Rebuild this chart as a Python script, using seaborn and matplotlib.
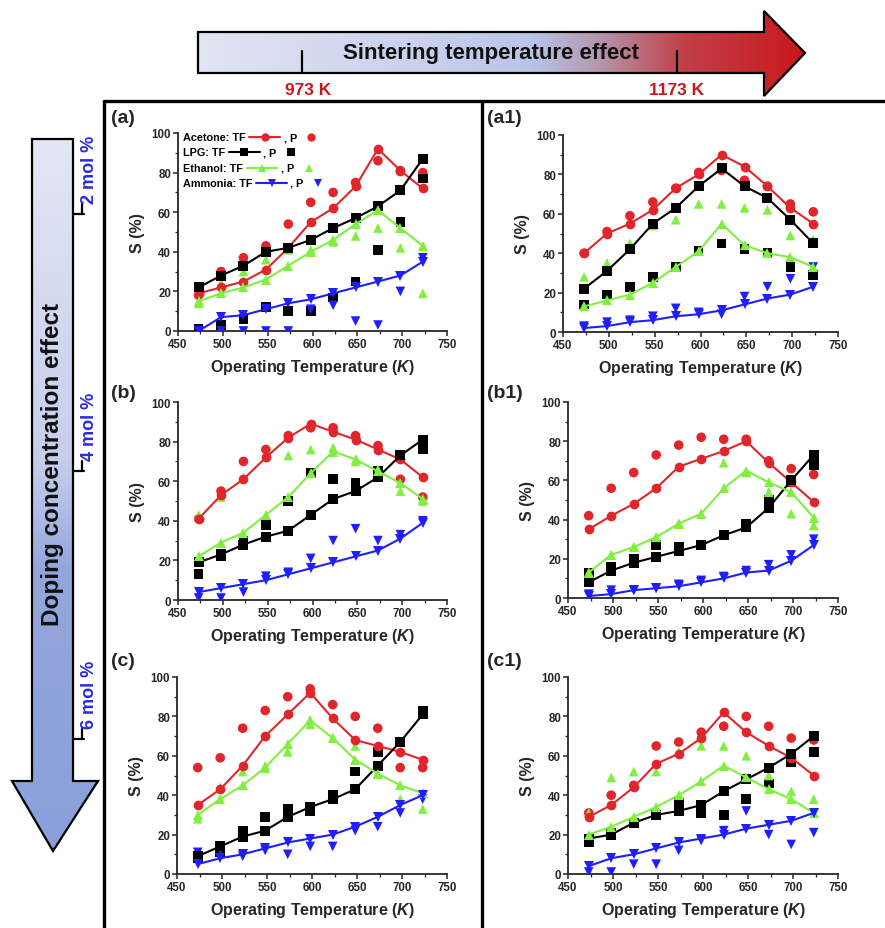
import matplotlib
matplotlib.use("Agg")
import numpy as np
import pandas as pd
import matplotlib.pyplot as plt
import seaborn as sns
from matplotlib.patches import Polygon
from matplotlib.lines import Line2D
from matplotlib.colors import LinearSegmentedColormap
from matplotlib.ticker import MultipleLocator
from matplotlib.offsetbox import TextArea, DrawingArea, HPacker, VPacker, AnchoredOffsetbox

# ---------------- data ----------------
temps = [473, 498, 523, 548, 573, 598, 623, 648, 673, 698, 723]
gases = ["Acetone", "LPG", "Ethanol", "Ammonia"]

# panel (a)
a_acetone_tf = [19, 22, 25, 31, 42, 55, 62, 73, 92, 81, 72]
a_acetone_p = [18, 30, 37, 43, 54, 65, 70, 75, 86, 81, 80]
a_lpg_tf = [22, 28, 33, 40, 42, 46, 52, 57, 63, 71, 87]
a_lpg_p = [1, 3, 6, 12, 10, 10, 17, 25, 41, 55, 77]
a_ethanol_tf = [15, 19, 22, 26, 33, 40, 46, 54, 61, 52, 43]
a_ethanol_p = [14, 24, 30, 36, 41, 41, 45, 48, 52, 42, 19]
a_ammonia_tf = [0, 7, 8, 11, 14, 16, 19, 22, 25, 28, 35]
a_ammonia_p = [0, 0, 0, 0, 0, 11, 13, 5, 3, 20, 37]

# panel (a1)
a1_acetone_tf = [40, 50, 55, 62, 73, 80, 90, 84, 74, 63, 55]
a1_acetone_p = [40, 51, 59, 66, 73, 81, 82, 77, 74, 65, 61]
a1_lpg_tf = [22, 31, 42, 55, 63, 74, 83, 74, 68, 57, 45]
a1_lpg_p = [14, 19, 23, 28, 33, 41, 45, 42, 40, 33, 29]
a1_ethanol_tf = [13, 16, 19, 25, 33, 41, 55, 44, 40, 38, 33]
a1_ethanol_p = [28, 35, 45, 54, 57, 65, 65, 63, 62, 49, 47]
a1_ammonia_tf = [2, 3, 5, 6, 8, 9, 11, 14, 17, 19, 23]
a1_ammonia_p = [3, 5, 6, 8, 12, 10, 9, 18, 23, 27, 33]

# panel (b)
b_acetone_tf = [41, 53, 61, 72, 82, 89, 85, 81, 76, 71, 62]
b_acetone_p = [41, 55, 70, 76, 83, 87, 87, 83, 78, 61, 52]
b_lpg_tf = [19, 23, 28, 32, 35, 43, 51, 55, 62, 73, 81]
b_lpg_p = [13, 22, 30, 38, 50, 64, 61, 59, 65, 72, 76]
b_ethanol_tf = [22, 29, 34, 43, 52, 64, 75, 71, 65, 59, 51]
b_ethanol_p = [43, 52, 62, 72, 73, 76, 77, 70, 66, 55, 50]
b_ammonia_tf = [4, 6, 8, 10, 13, 16, 19, 22, 25, 31, 39]
b_ammonia_p = [1, 1, 4, 12, 14, 21, 30, 36, 30, 33, 40]

# panel (b1)
b1_acetone_tf = [35, 42, 48, 56, 67, 71, 75, 80, 69, 59, 49]
b1_acetone_p = [42, 56, 64, 73, 78, 82, 81, 81, 70, 66, 63]
b1_lpg_tf = [8, 14, 18, 21, 24, 27, 32, 36, 46, 60, 73]
b1_lpg_p = [13, 16, 20, 27, 26, 27, 32, 38, 50, 59, 68]
b1_ethanol_tf = [13, 22, 26, 31, 38, 43, 56, 65, 59, 54, 41]
b1_ethanol_p = [13, 22, 26, 31, 38, 43, 69, 64, 54, 43, 37]
b1_ammonia_tf = [1, 2, 4, 5, 6, 8, 10, 13, 14, 19, 27]
b1_ammonia_p = [2, 4, 4, 5, 7, 9, 11, 14, 17, 22, 30]

# panel (c)
c_acetone_tf = [35, 43, 55, 70, 81, 92, 79, 68, 65, 62, 58]
c_acetone_p = [54, 59, 74, 83, 90, 94, 86, 80, 74, 54, 54]
c_lpg_tf = [9, 14, 19, 22, 29, 34, 38, 43, 55, 67, 81]
c_lpg_p = [8, 11, 22, 29, 33, 32, 40, 52, 62, 67, 83]
c_ethanol_tf = [30, 38, 45, 54, 66, 78, 69, 58, 51, 45, 41]
c_ethanol_p = [28, 44, 52, 55, 62, 76, 69, 65, 51, 38, 33]
c_ammonia_tf = [5, 8, 10, 13, 16, 18, 20, 24, 29, 35, 40]
c_ammonia_p = [11, 12, 9, 12, 10, 14, 14, 22, 24, 31, 38]

# panel (c1)
c1_acetone_tf = [29, 35, 44, 56, 61, 69, 82, 72, 65, 59, 50]
c1_acetone_p = [31, 40, 45, 65, 67, 72, 75, 80, 75, 69, 68]
c1_lpg_tf = [18, 20, 26, 30, 32, 35, 42, 48, 54, 61, 70]
c1_lpg_p = [16, 21, 26, 30, 36, 31, 30, 38, 46, 57, 62]
c1_ethanol_tf = [20, 24, 29, 34, 40, 47, 55, 49, 43, 38, 31]
c1_ethanol_p = [31, 49, 52, 52, 62, 65, 65, 60, 50, 42, 38]
c1_ammonia_tf = [4, 8, 10, 13, 16, 18, 20, 23, 25, 27, 31]
c1_ammonia_p = [1, 1, 5, 5, 12, 17, 22, 32, 20, 15, 21]

panel_labels = ["(a)", "(a1)", "(b)", "(b1)", "(c)", "(c1)"]
x_ticks = [450, 500, 550, 600, 650, 700, 750]
y_ticks = [0, 20, 40, 60, 80, 100]
mol_labels = ["2 mol %", "4 mol %", "6 mol %"]
sinter_labels = ["973 K", "1173 K"]

panels = {
    "(a)": (a_acetone_tf, a_acetone_p, a_lpg_tf, a_lpg_p, a_ethanol_tf, a_ethanol_p, a_ammonia_tf, a_ammonia_p),
    "(a1)": (a1_acetone_tf, a1_acetone_p, a1_lpg_tf, a1_lpg_p, a1_ethanol_tf, a1_ethanol_p, a1_ammonia_tf, a1_ammonia_p),
    "(b)": (b_acetone_tf, b_acetone_p, b_lpg_tf, b_lpg_p, b_ethanol_tf, b_ethanol_p, b_ammonia_tf, b_ammonia_p),
    "(b1)": (b1_acetone_tf, b1_acetone_p, b1_lpg_tf, b1_lpg_p, b1_ethanol_tf, b1_ethanol_p, b1_ammonia_tf, b1_ammonia_p),
    "(c)": (c_acetone_tf, c_acetone_p, c_lpg_tf, c_lpg_p, c_ethanol_tf, c_ethanol_p, c_ammonia_tf, c_ammonia_p),
    "(c1)": (c1_acetone_tf, c1_acetone_p, c1_lpg_tf, c1_lpg_p, c1_ethanol_tf, c1_ethanol_p, c1_ammonia_tf, c1_ammonia_p),
}

# ---------------- style ----------------
sns.set_style("ticks")
plt.rcParams["font.family"] = ["Liberation Sans", "DejaVu Sans"]
plt.rcParams["font.weight"] = "bold"
plt.rcParams["mathtext.fontset"] = "custom"
plt.rcParams["mathtext.it"] = "Liberation Sans:italic:bold"
plt.rcParams["mathtext.rm"] = "Liberation Sans:bold"
NARROW = ["Liberation Sans Narrow", "Liberation Sans", "DejaVu Sans"]

colors = {"Acetone": "#e0262a", "LPG": "#000000", "Ethanol": "#80f040", "Ammonia": "#1e1eff"}
markers = {"Acetone": "o", "LPG": "s", "Ethanol": "^", "Ammonia": "v"}

W, H = 885, 929
fig = plt.figure(figsize=(W / 100, H / 100), dpi=100)

# pixel boxes (left, top, right, bottom)
boxes = {
    "(a)": (178, 134, 447, 332),
    "(a1)": (563, 136, 838, 333),
    "(b)": (178, 403, 447, 601),
    "(b1)": (568, 403, 838, 599),
    "(c)": (177, 678, 447, 875),
    "(c1)": (568, 678, 838, 875),
}
label_pos = {"(a)": (111, 118), "(a1)": (487, 118), "(b)": (111, 393),
             "(b1)": (487, 393), "(c)": (111, 661), "(c1)": (487, 661)}

# overlay axes for frames and arrows
ov = fig.add_axes([0, 0, 1, 1], zorder=0)
ov.set_xlim(0, W)
ov.set_ylim(H, 0)
ov.axis("off")

# frame lines
ov.plot([103, W], [102, 102], color="black", lw=2.4, solid_capstyle="butt")
ov.plot([104, 104], [101, H], color="black", lw=2.4, solid_capstyle="butt")
ov.plot([482, 482], [101, H], color="black", lw=2.4, solid_capstyle="butt")

# top arrow (sintering)
top_poly = Polygon([(198, 33), (764, 33), (764, 12), (805, 54), (764, 97), (764, 74), (198, 74)],
                   closed=True, facecolor="none", edgecolor="black", lw=1.6, zorder=3)
ov.add_patch(top_poly)
cmap_top = LinearSegmentedColormap.from_list(
    "top", [(0.0, "#e2e4f2"), (0.38, "#c8d0ec"), (0.55, "#b8c4ea"), (0.66, "#b597ae"),
            (0.8, "#c24048"), (1.0, "#c8181c")])
grad = np.linspace(0, 1, 256).reshape(1, -1)
im = ov.imshow(grad, extent=(198, 805, 97, 12), cmap=cmap_top, aspect="auto", zorder=2)
im.set_clip_path(top_poly)
ov.text(491, 53, "Sintering temperature effect", ha="center", va="center",
        fontsize=16, fontweight="bold", family=NARROW, color="#111111", zorder=4)
for xt, lab in zip([302, 677], sinter_labels):
    ov.plot([xt, xt], [52, 74], color="black", lw=1.6, zorder=4)
    ov.text(xt + (6 if lab == "973 K" else 0), 90, lab, ha="center", va="center",
            fontsize=12.5, fontweight="bold", family=NARROW, color="#c8181c", zorder=4)

# left arrow (doping)
left_poly = Polygon([(32, 140), (73, 140), (73, 782), (98, 782), (53, 852), (12, 782), (32, 782)],
                    closed=True, facecolor="none", edgecolor="black", lw=1.6, zorder=3)
ov.add_patch(left_poly)
cmap_left = LinearSegmentedColormap.from_list(
    "left", [(0.0, "#e3e6f4"), (0.45, "#c6ceec"), (0.52, "#b0bde6"), (0.6, "#94a7dc"), (1.0, "#8aa0da")])
gradv = np.linspace(0, 1, 256).reshape(-1, 1)
im2 = ov.imshow(gradv, extent=(12, 98, 852, 140), cmap=cmap_left, aspect="auto", zorder=2)
im2.set_clip_path(left_poly)
ov.text(53, 465, "Doping concentration effect", ha="center", va="center", rotation=90,
        fontsize=17.5, fontweight="bold", family=NARROW, color="#111111", zorder=4)
for yt, lab in zip([215, 472, 740], mol_labels):
    ov.plot([73, 84], [yt, yt], color="black", lw=1.6, zorder=4)
    ov.plot([82, 82], [yt - 10, yt], color="black", lw=1.6, zorder=4)
    ov.text(90, yt - 45, lab, ha="center", va="center", rotation=90,
            fontsize=13, fontweight="bold", family=NARROW, color="#2a2ae0", zorder=4)
ov.set_xlim(0, W)
ov.set_ylim(H, 0)


def legend_row(g):
    fs = 7.8
    t1 = TextArea(f"{g}: TF", textprops=dict(fontsize=fs, fontweight="bold", color="black"))
    d1 = DrawingArea(24, 7, 0, 0)
    d1.add_artist(Line2D([1, 23], [3.5, 3.5], color=colors[g], lw=1.5))
    d1.add_artist(Line2D([12], [3.5], color=colors[g], marker=markers[g], markersize=6,
                         markeredgewidth=0, lw=0))
    t2 = TextArea(", P", textprops=dict(fontsize=fs, fontweight="bold", color="black"))
    d2 = DrawingArea(14, 7, 0, 0)
    d2.add_artist(Line2D([9], [3.5], color=colors[g], marker=markers[g], markersize=6,
                         markeredgewidth=0, lw=0))
    return HPacker(children=[t1, d1, t2, d2], align="center", pad=0, sep=1.5)


# ---------------- panels ----------------
for name in panel_labels:
    l, t, r, b = boxes[name]
    ax = fig.add_axes([l / W, 1 - b / H, (r - l) / W, (b - t) / H], zorder=2)
    ax.patch.set_alpha(0)
    vals = panels[name]
    tf_rows, p_rows = [], []
    for gi, g in enumerate(gases):
        for T, vtf, vp in zip(temps, vals[2 * gi], vals[2 * gi + 1]):
            tf_rows.append({"T": T, "S": vtf, "gas": g})
            p_rows.append({"T": T, "S": vp, "gas": g})
    df_tf = pd.DataFrame(tf_rows)
    df_p = pd.DataFrame(p_rows)
    sns.scatterplot(data=df_p, x="T", y="S", hue="gas", style="gas", palette=colors,
                    markers=markers, s=48, linewidth=0, legend=False, ax=ax, zorder=3)
    sns.lineplot(data=df_tf, x="T", y="S", hue="gas", style="gas", palette=colors,
                 markers=markers, dashes=False, markersize=7, markeredgewidth=0,
                 linewidth=1.5, legend=False, ax=ax, zorder=4)
    ax.set_xlim(450, 750)
    ax.set_ylim(0, 100)
    ax.set_xticks(x_ticks)
    ax.set_yticks(y_ticks)
    ax.xaxis.set_minor_locator(MultipleLocator(25))
    ax.yaxis.set_minor_locator(MultipleLocator(10))
    ax.tick_params(which="major", length=3.5, width=1.1, labelsize=8.3, pad=1.5)
    ax.tick_params(which="minor", length=2, width=0.9)
    for lab in ax.get_xticklabels() + ax.get_yticklabels():
        lab.set_fontweight("bold")
    sns.despine(ax=ax)
    for sp in ("left", "bottom"):
        ax.spines[sp].set_linewidth(1.3)
    ax.set_xlabel(r"Operating Temperature ($\mathit{K}$)", fontsize=11.5, fontweight="bold", labelpad=5)
    ax.set_ylabel("S (%)", fontsize=11.5, fontweight="bold", labelpad=5)
    lx, ly = label_pos[name]
    ov.text(lx, ly, name, ha="left", va="center", fontsize=14, fontweight="bold", zorder=5)

    if name == "(a)":
        rows = [legend_row(g) for g in gases]
        box = VPacker(children=rows, align="left", pad=0, sep=3.8)
        anch = AnchoredOffsetbox(loc="upper left", child=box, pad=0, borderpad=0, frameon=False,
                                 bbox_to_anchor=(0.02, 1.005), bbox_transform=ax.transAxes)
        ax.add_artist(anch)

fig.savefig("out.png", dpi=100)
